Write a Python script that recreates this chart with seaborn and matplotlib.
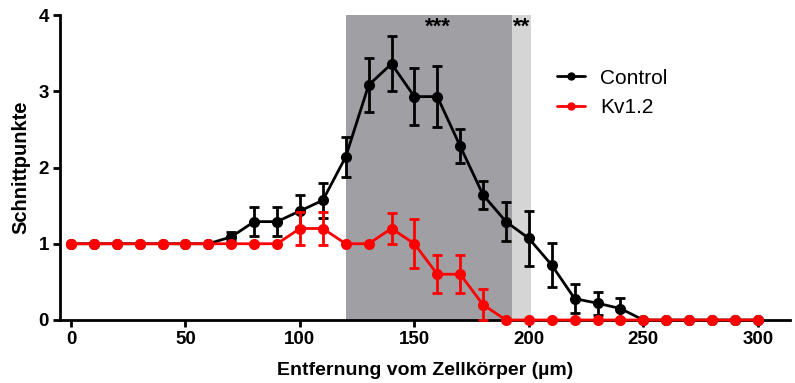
import numpy as np
import pandas as pd
import matplotlib
matplotlib.use('Agg')
import matplotlib.pyplot as plt
import seaborn as sns

# Daten
entfernung = list(range(0, 310, 10))

control_mw = [1, 1, 1, 1, 1, 1, 1, 1.09, 1.29, 1.29, 1.43, 1.57, 2.14, 3.08, 3.36,
              2.93, 2.93, 2.28, 1.64, 1.29, 1.07, 0.72, 0.28, 0.22, 0.15,
              0, 0, 0, 0, 0, 0]
control_sem = [0, 0, 0, 0, 0, 0, 0, 0.06, 0.19, 0.19, 0.21, 0.23, 0.26, 0.35, 0.36,
               0.37, 0.40, 0.22, 0.18, 0.26, 0.36, 0.29, 0.19, 0.15, 0.14,
               0, 0, 0, 0, 0, 0]

kv_mw = [1, 1, 1, 1, 1, 1, 1, 1, 1, 1, 1.2, 1.2, 1, 1, 1.2,
         1.0, 0.6, 0.6, 0.2, 0, 0, 0, 0, 0, 0,
         0, 0, 0, 0, 0, 0]
kv_sem = [0, 0, 0, 0, 0, 0, 0, 0, 0, 0, 0.21, 0.21, 0, 0, 0.2,
          0.32, 0.25, 0.25, 0.2, 0, 0, 0, 0, 0, 0,
          0, 0, 0, 0, 0, 0]

bereich_3 = (120, 192.5)   # ***
bereich_2 = (192.5, 201)   # **
sterne = ['***', '**']
stern_x = [160.3, 196.8]

df = pd.DataFrame({'x': entfernung * 2,
                   'y': control_mw + kv_mw,
                   'sem': control_sem + kv_sem,
                   'gruppe': ['Control'] * len(entfernung) + ['Kv1.2'] * len(entfernung)})

sns.set_style('ticks')
plt.rcParams['font.family'] = ['Liberation Sans', 'DejaVu Sans']
plt.rcParams.update({'text.color': 'black', 'axes.labelcolor': 'black',
                     'xtick.color': 'black', 'ytick.color': 'black',
                     'axes.edgecolor': 'black'})

fig = plt.figure(figsize=(7.95, 3.83), dpi=100)
ax = fig.add_axes([0.0755, 0.1645, 0.918, 0.7963])

ax.axvspan(*bereich_3, color='#a09fa4', lw=0, zorder=0)
ax.axvspan(*bereich_2, color='#d5d5d5', lw=0, zorder=0)
for s, sx in zip(sterne, stern_x):
    ax.text(sx, 3.98, s, ha='center', va='top', fontsize=16, fontweight='bold')

farben = {'Control': 'black', 'Kv1.2': '#ff0000'}
for i, (name, d) in enumerate(df.groupby('gruppe')):
    m = d['sem'] > 0
    ax.errorbar(d['x'][m], d['y'][m], yerr=d['sem'][m], fmt='none', ecolor=farben[name],
                elinewidth=2, capsize=3.5, capthick=2, zorder=2 + i * 2)
sns.lineplot(data=df, x='x', y='y', hue='gruppe', palette=farben, marker='o',
             markersize=8, markeredgewidth=0, linewidth=2, ax=ax, legend=True,
             zorder=3)
for ln in ax.lines:
    ln.set_clip_on(False)

ax.set_xlim(-4.8, 314)
ax.set_ylim(0, 4)
ax.set_xticks([0, 50, 100, 150, 200, 250, 300])
ax.set_yticks([0, 1, 2, 3, 4])
for s in ['top', 'right']:
    ax.spines[s].set_visible(False)
for s in ['left', 'bottom']:
    ax.spines[s].set_linewidth(2)
ax.tick_params(width=2, length=5, labelsize=13.5, pad=3)
for lab in ax.get_xticklabels() + ax.get_yticklabels():
    lab.set_fontweight('bold')
ax.set_xlabel('Entfernung vom Zellkörper (µm)', fontsize=14, fontweight='bold', labelpad=10)
ax.set_ylabel('Schnittpunkte', fontsize=14.5, fontweight='bold', labelpad=6)

leg = ax.legend(loc='upper left', bbox_to_anchor=(0.7006, 0.821), bbox_transform=fig.transFigure,
                frameon=False, fontsize=15, handlelength=1.35, handletextpad=0.72,
                labelspacing=0.5, borderpad=0, borderaxespad=0)
for h in leg.legend_handles:
    h.set_markersize(6)

fig.savefig('out.png', dpi=100)
